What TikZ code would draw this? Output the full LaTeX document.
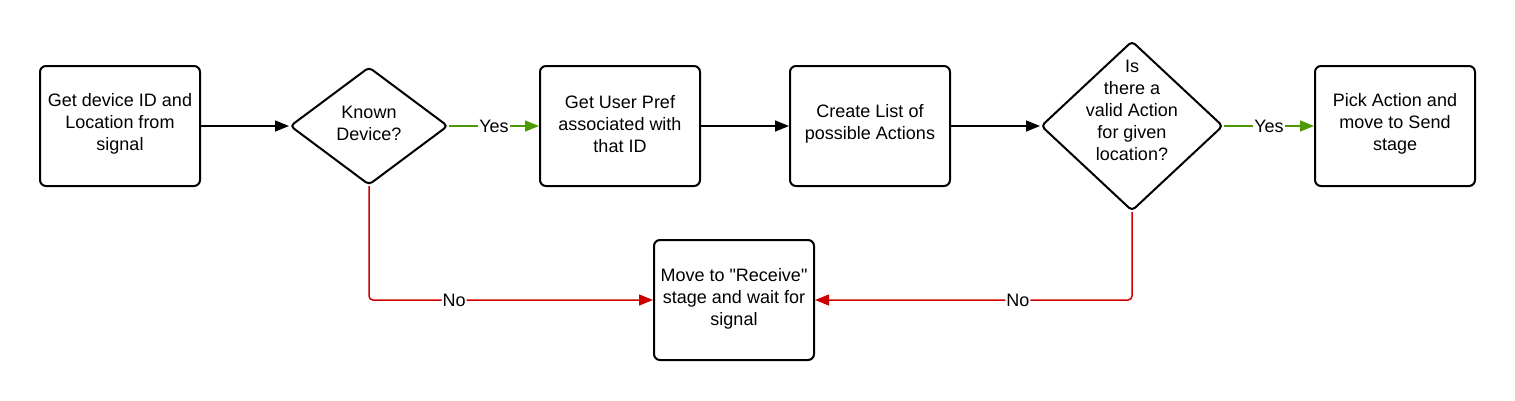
\documentclass[tikz,border=0pt]{standalone}
\usepackage{fontspec}
\setmainfont{Liberation Sans}[Ligatures=TeXOff]
\usetikzlibrary{shapes.geometric,arrows.meta}
\definecolor{yesgreen}{RGB}{78,154,6}
\definecolor{nored}{RGB}{204,0,0}
\begin{document}
\begin{tikzpicture}[x=1pt,y=-1pt,
  font=\fontsize{18}{22}\selectfont,
  box/.style={draw,line width=2pt,rounded corners=6pt,minimum width=160pt,minimum height=120pt},
  boxtext/.style={align=center,inner sep=0pt},
  dec/.style={draw,diamond,line width=2pt,rounded corners=4pt,inner sep=0pt},
  flow/.style={line width=1.5pt,-{Triangle[length=14pt,width=11pt]}},
  yesflow/.style={flow,draw=yesgreen,-{Triangle[length=14pt,width=11pt,fill=yesgreen]}},
  noflow/.style={flow,draw=nored,rounded corners=4pt,-{Triangle[length=14pt,width=11pt,fill=nored]}},
  lbl/.style={fill=white,inner sep=1pt,text=black}
]
\useasboundingbox (0,0) rectangle (1515,400);
\node[box] (b1) at (120,126) {};
\node[boxtext] (t1) at (120,124) {Get device ID and\\Location from\\signal};
\node[dec,minimum width=158pt,minimum height=118pt] (d1) at (369,126) {};
\node[boxtext] (td1) at (369,123) {Known\\Device?};
\node[box] (b2) at (620,126) {};
\node[boxtext] (t2) at (620,124) {Get User Pref\\associated with\\that ID};
\node[box] (b3) at (870,126) {};
\node[boxtext] (t3) at (870,124) {Create List of\\possible Actions};
\node[dec,minimum width=182pt,minimum height=170pt] (d2) at (1132,126) {};
\node[boxtext] (td2) at (1132,110) {Is\\there a\\valid Action\\for given\\location?};
\node[box] (b4) at (1395,126) {};
\node[boxtext] (t4) at (1395,124) {Pick Action and\\move to Send\\stage};
\node[box] (b5) at (734,300) {};
\node[boxtext] (t5) at (734,299) {Move to "Receive"\\stage and wait for\\signal};

\draw[flow] (b1) -- (d1);
\draw[yesflow] (d1.east) -- node[lbl] (y1) {Yes} (b2.west);
\draw[flow] (b2) -- (b3);
\draw[flow] (b3) -- (d2.west);
\draw[yesflow] (d2.east) -- node[lbl] (y2) {Yes} (b4.west);
\draw[noflow] (d1.south) |- node[lbl,pos=0.65] (n1) {No} (b5.west);
\draw[noflow] (d2.south) |- node[lbl,pos=0.68] (n2) {No} (b5.east);
\end{tikzpicture}
\end{document}
